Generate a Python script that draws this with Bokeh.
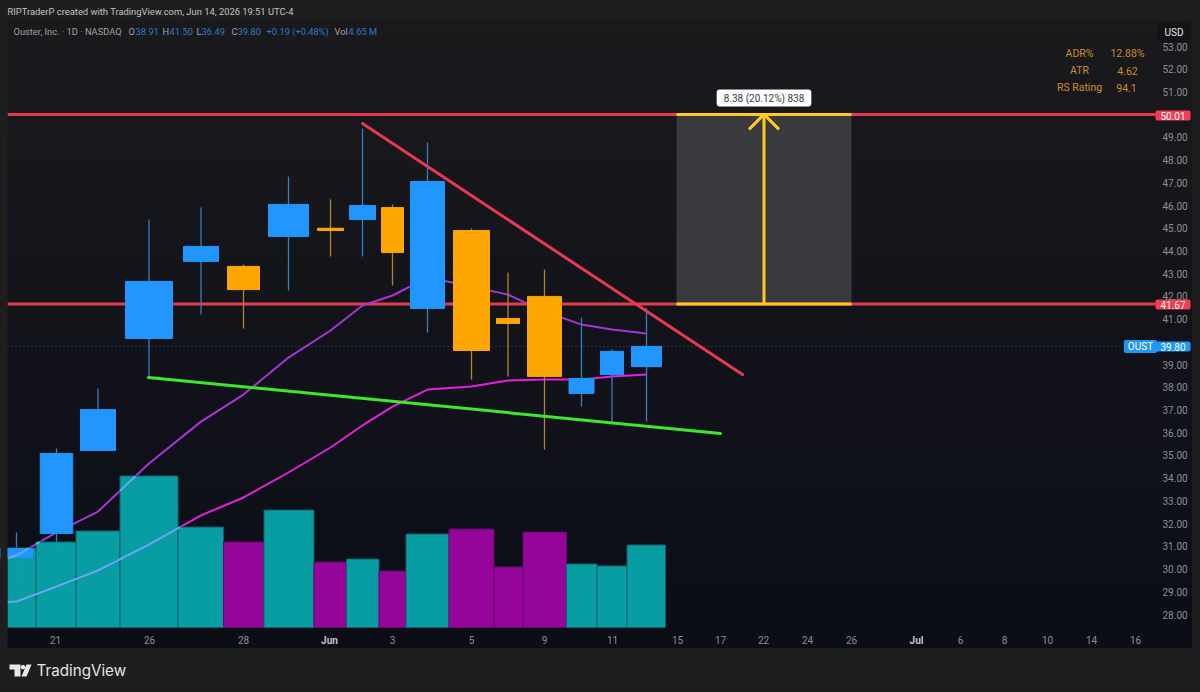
import numpy as np
from bokeh.plotting import figure
from bokeh.embed import file_html
from bokeh.resources import INLINE
from bokeh.models import (ColumnDataSource, FixedTicker, Label, LinearAxis, Range1d,
                          NumeralTickFormatter)

# ---------- data ----------
session_slot = [9, 49, 90.5, 141.5, 193.5, 236, 281, 323, 355, 385, 420, 464, 500.5, 537, 574, 604.5, 639]
body_width = [32, 32.5, 35, 47, 35, 32, 40, 26, 26, 22, 34, 36, 23, 34, 25, 23, 30]
opens = [30.51, 31.57, 35.22, 40.15, 43.54, 43.32, 44.64, 45.00, 45.39, 45.91, 41.47, 44.90, 41.03, 42.00, 37.73, 38.56, 38.91]
closes = [30.90, 35.09, 37.02, 42.66, 44.20, 42.30, 46.05, 44.90, 46.00, 43.93, 47.06, 39.62, 40.81, 38.48, 38.39, 39.58, 39.80]
highs = [31.61, 35.31, 37.95, 45.39, 45.91, 43.40, 47.28, 46.27, 49.39, 46.05, 48.77, 44.99, 43.05, 43.18, 41.07, 39.66, 41.50]
lows = [29.36, 30.82, 35.22, 38.43, 41.20, 40.59, 42.26, 43.76, 43.76, 42.48, 40.41, 38.34, 38.48, 35.26, 37.15, 36.45, 36.49]
volume_m = [4.48, 4.82, 5.44, 8.54, 5.66, 4.82, 6.62, 3.69, 3.86, 3.18, 5.27, 5.55, 3.41, 5.38, 3.58, 3.47, 4.65]
volume_up = [1, 1, 1, 1, 1, 0, 1, 0, 1, 0, 1, 0, 0, 0, 1, 1, 1]
volume_edges = [0, 28.5, 68.5, 112.5, 170.5, 216, 256.5, 306.5, 339, 371.5, 398.5, 441.5, 486.5, 515.5, 559, 589.5, 619.5, 658]

ema_slot = [-7, 9, 49, 90.5, 141.5, 193.5, 236, 281, 323, 355, 385, 420, 464, 500.5, 537, 574, 604.5, 639]
ema_fast = [30.38, 30.60, 31.61, 32.53, 34.65, 36.49, 37.68, 39.31, 40.50, 41.60, 42.04, 42.83, 42.44, 42.08, 41.34, 40.76, 40.54, 40.37]
ema_slow = [28.54, 28.57, 29.23, 29.94, 31.08, 32.36, 33.15, 34.25, 35.35, 36.32, 37.15, 37.90, 38.04, 38.30, 38.34, 38.34, 38.48, 38.56]

level_high = 50.01
level_low = 41.67
last_close = 39.80
trend_down_x, trend_down_y = [355, 735], [49.61, 38.56]
trend_up_x, trend_up_y = [141, 713], [38.43, 35.97]
measure_x = [669, 844]

price_ticks = [28, 29, 30, 31, 32, 33, 34, 35, 36, 37, 38, 39, 41, 42, 43, 44, 45, 46, 47, 48, 49, 51, 52, 53]
time_tick_slots = [48, 142, 236, 385, 464, 537, 605, 670, 713, 756, 800, 844, 953, 997, 1040, 1084, 1128]
time_tick_labels = ["21", "26", "28", "3", "5", "9", "11", "15", "17", "22", "24", "26", "6", "8", "10", "14", "16"]

# ---------- page geometry helpers (reference pixels -> axes) ----------
FRAME_L, FRAME_R, FRAME_B = 7, 1155, 627
PX_PER_UNIT = 22.72
def xp(px):
    return px - FRAME_L
def yp(py):
    return 28 + (614 - py) / PX_PER_UNIT

BLUE, ORANGE = "#2196ff", "#ffa600"
RED, YELLOW, GREEN = "#e73a50", "#ffcb1e", "#3de82c"
PURPLE, MAGENTA, LIGHT = "#a635d8", "#e51fdc", "#6aa6f5"
TEAL, VIOLET = "#07a2a8", "#9a059f"
AXIS = "#8e8e93"
FONT = "Roboto"
MARGIN = "#1e1e1e"

p = figure(width=1200, height=692, output_backend="svg", toolbar_location=None,
           x_range=Range1d(xp(0), xp(1200)), y_range=Range1d(yp(692), yp(0)),
           x_axis_location=None, y_axis_location=None,
           min_border_left=0, min_border_right=0, min_border_top=0, min_border_bottom=0, tools="")
p.background_fill_alpha = 0
p.border_fill_alpha = 0
p.outline_line_color = None
p.grid.visible = False

M_PER_PX = 4.65 / 82.5
p.extra_y_ranges = {"vol": Range1d(-(692 - FRAME_B) * M_PER_PX, FRAME_B * M_PER_PX)}

ax = LinearAxis(fixed_location=xp(FRAME_R), ticker=FixedTicker(ticks=price_ticks),
                formatter=NumeralTickFormatter(format="0.00"))
ax.axis_line_color = None
ax.major_tick_line_color = None
ax.minor_tick_line_color = None
ax.major_tick_out = 0
ax.major_label_standoff = 7
ax.major_label_text_color = AXIS
ax.major_label_text_font = FONT
ax.major_label_text_font_size = "10px"
p.add_layout(ax, "right")

bx = LinearAxis(fixed_location=yp(FRAME_B), ticker=FixedTicker(ticks=time_tick_slots))
bx.major_label_overrides = {s: t for s, t in zip(time_tick_slots, time_tick_labels)}
bx.axis_line_color = None
bx.major_tick_line_color = None
bx.minor_tick_line_color = None
bx.major_tick_out = 0
bx.major_label_standoff = 8
bx.major_label_text_color = AXIS
bx.major_label_text_font = FONT
bx.major_label_text_font_size = "10px"
p.add_layout(bx, "below")

# measure box
p.quad(left=[measure_x[0]], right=[measure_x[1]], top=[level_high], bottom=[level_low],
       fill_color="#3a3a3e", line_color=None)

# horizontal levels and last-price line
p.line([0, xp(FRAME_R)], [level_high, level_high], line_color=RED, line_width=3)
p.line([0, xp(FRAME_R)], [level_low, level_low], line_color=RED, line_width=3)
p.line([0, xp(1125)], [last_close, last_close], line_color="#2f5a85", line_width=1, line_dash="1 3")

# EMAs (under the bodies)
p.line(ema_slot, ema_fast, line_color=PURPLE, line_width=2)
p.line(ema_slot, ema_slow, line_color=MAGENTA, line_width=2)

# wicks
is_up = [c >= o for o, c in zip(opens, closes)]
src = ColumnDataSource(dict(
    x=session_slot, w=body_width, hi=highs, lo=lows,
    top=[max(o, c) for o, c in zip(opens, closes)],
    bot=[min(o, c) for o, c in zip(opens, closes)],
    col=[BLUE if u else ORANGE for u in is_up],
    wick=["#3a7db8" if u else "#b0842f" for u in is_up],
))
p.segment(x0="x", x1="x", y0="lo", y1="hi", source=src, line_color="wick", line_width=1.3)

# volume
v_src = ColumnDataSource(dict(
    left=volume_edges[:-1], right=volume_edges[1:], top=volume_m, bottom=[0] * len(volume_m),
    fill=[TEAL if u else VIOLET for u in volume_up],
    edge=["#0b626c" if u else "#64086c" for u in volume_up],
))
p.quad(left="left", right="right", top="top", bottom="bottom", source=v_src, y_range_name="vol",
       fill_color="fill", line_color="edge", line_width=1, fill_alpha=0.97)

# bodies
p.vbar(x="x", width="w", top="top", bottom="bot", source=src, fill_color="col", line_color="col", line_width=1)

# EMAs as seen through the volume bars
def through_bars(values):
    xs = np.arange(0, volume_edges[-1], 0.5)
    ys = np.interp(xs, ema_slot, values)
    idx = np.clip(np.searchsorted(volume_edges, xs, side="right") - 1, 0, len(volume_m) - 1)
    tops = yp(FRAME_B) + np.array(volume_m)[idx] / M_PER_PX / PX_PER_UNIT
    return xs, np.where(ys < tops, ys, np.nan)
for vals in (ema_fast, ema_slow):
    lx, ly = through_bars(vals)
    p.line(lx, ly, line_color=LIGHT, line_width=2)

# trend lines
p.line(trend_down_x, trend_down_y, line_color=RED, line_width=3, line_cap="round")
p.line(trend_up_x, trend_up_y, line_color=GREEN, line_width=3, line_cap="round")

# measure tool
p.line(measure_x, [level_high, level_high], line_color=YELLOW, line_width=3)
p.line(measure_x, [level_low, level_low], line_color=YELLOW, line_width=3)
mid = sum(measure_x) / 2
head = 15
p.line([mid, mid], [level_low, level_high], line_color=YELLOW, line_width=3)
p.line([mid - head, mid, mid + head], [level_high - head / PX_PER_UNIT, level_high, level_high - head / PX_PER_UNIT],
       line_color=YELLOW, line_width=3)

# left page margin over anything that runs off the panel
p.quad(left=[xp(0)], right=[0], top=[yp(20)], bottom=[yp(648)], fill_color=MARGIN, line_color=None)

def txt(px, py, s, color=AXIS, size=10, align="left", bold=False, font=FONT, **kw):
    p.add_layout(Label(x=xp(px), y=yp(py), text=s, text_color=color, text_font=font,
                       text_font_size=f"{size}px", text_align=align, text_baseline="middle",
                       text_font_style="bold" if bold else "normal", level="overlay", **kw))

# measure tag
txt(763.5, 97.5, "8.38 (20.12%) 838", color="#3a3a40", size=10, align="center",
    background_fill_color="#ffffff", padding=(7, 3), border_radius=3)

# price labels
txt(1172.5, 115, "50.01", color="#ffffff", align="center", background_fill_color="#f23d54", padding=(5, 1), border_radius=2)
txt(1172.5, 304, "41.67", color="#ffffff", align="center", background_fill_color="#f23d54", padding=(5, 1), border_radius=2)
txt(1140, 346, "OUST", color="#ffffff", align="center", background_fill_color="#2196f3", padding=(4, 1), border_radius=2)
txt(1172.5, 346, "39.80", color="#ffffff", align="center", background_fill_color="#2196f3", padding=(5, 1), border_radius=2)
txt(1173.5, 32, "USD", color="#e6e6e6", align="center", background_fill_color="#121316", padding=(7, 4), border_radius=3)

# month labels on the time scale
txt(329, 640, "Jun", color="#c4c4c8", align="center", bold=True)
txt(916, 640, "Jul", color="#c4c4c8", align="center", bold=True)

# header
txt(7, 11, "RIPTraderP created with TradingView.com, Jun 14, 2026 19:51 UTC-4", color="#c2c2c6", size=9.4)
VAL = "#2a78c8"
GREY = "#a0a0a5"
for px, s, c in [(13, "Ouster, Inc. · 1D · NASDAQ", GREY), (128, "O", GREY), (135, "38.91", VAL),
                 (162, "H", GREY), (169, "41.50", VAL), (196, "L", GREY), (201, "36.49", VAL),
                 (231, "C", GREY), (237, "39.80", VAL), (266, "+0.19 (+0.48%)", VAL),
                 (334, "Vol", GREY), (348, "4.65 M", VAL)]:
    txt(px, 31, s, color=c, size=9.3)

# stats table
TAB = "#cb8c28"
for py, a, ax_, b, bx_ in [(53, "ADR%", 1079, "12.88%", 1127), (70, "ATR", 1079, "4.62", 1127),
                           (87, "RS Rating", 1079, "94.1", 1126)]:
    txt(ax_, py, a, color=TAB, size=10.5, align="center")
    txt(bx_, py, b, color=TAB, size=10.5, align="center")

# TradingView logo
logo_xs = [[9, 20, 20, 14, 14, 9],
           [22.5, 24.2, 24.9, 24.2, 22.5, 20.8, 20.1, 20.8],
           [26, 31, 26, 21]]
logo_ys = [[664, 664, 676, 676, 669, 669],
           [664.2, 664.9, 666.6, 668.3, 669, 668.3, 666.6, 664.9],
           [664, 664, 676, 676]]
p.patches([[xp(v) for v in xs] for xs in logo_xs], [[yp(v) for v in ys] for ys in logo_ys],
          fill_color="#e8e8e8", line_color=None)
txt(36, 670, "TradingView", color="#e4e4e4", size=15.2, font="Inter")

style = ("<style>html,body{margin:0;padding:0;overflow:hidden;background-color:#1e1e1e;"
         "background-image:linear-gradient(#1e1e1e,#1e1e1e),linear-gradient(#1e1e1e,#1e1e1e),"
         "linear-gradient(#1e1e1e,#1e1e1e),linear-gradient(#1e1e1e,#1e1e1e),linear-gradient(#1a1a1d,#0b0d17);"
         "background-size:7px 692px,8px 692px,1200px 20px,1200px 44px,1200px 628px;"
         "background-position:0 0,1192px 0,0 0,0 648px,0 20px;background-repeat:no-repeat}</style>")
html = file_html(p, INLINE).replace("<head>", "<head>" + style, 1)
open("out.html", "w").write(html)
